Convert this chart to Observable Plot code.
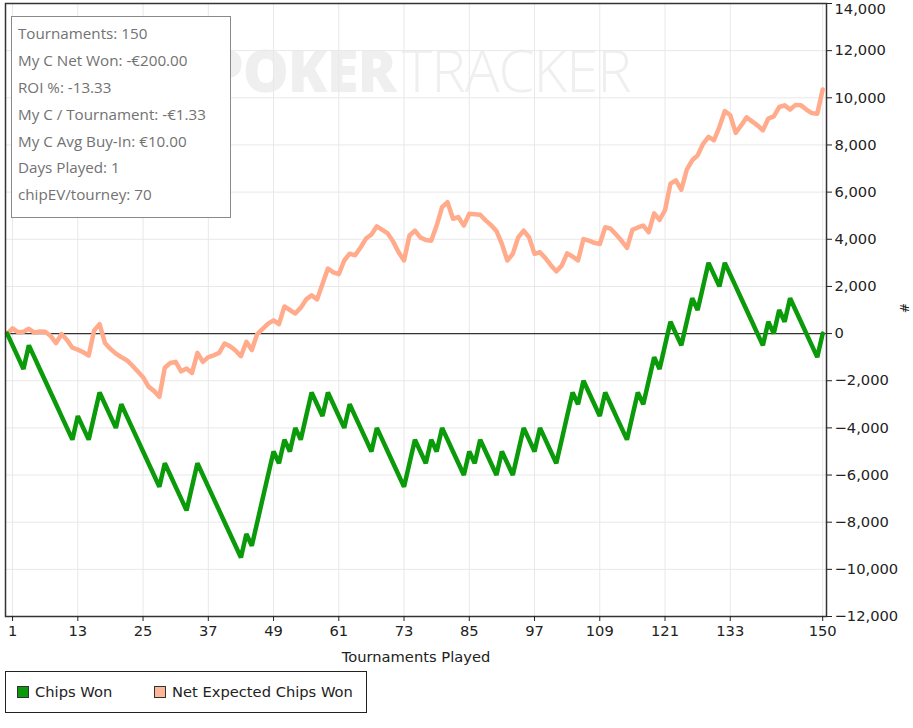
<!DOCTYPE html>
<html>
<head>
<meta charset="utf-8">
<script src="https://cdn.jsdelivr.net/npm/d3@7"></script>
<script src="https://cdn.jsdelivr.net/npm/@observablehq/plot@0.6"></script>
<style>
  body { margin: 0; background: #fff; }
  #wrap { position: relative; width: 913px; height: 728px; overflow: hidden; font-family: "DejaVu Sans", sans-serif; }
  #chart { position: absolute; left: 0; top: 0; }
  #watermark { position: absolute; left: 207px; top: 30px; font-family: "Open Sans", "DejaVu Sans", sans-serif; font-size: 58px; color: #efefef; white-space: nowrap; letter-spacing: -1px; pointer-events: none; }
  #watermark b { font-weight: 800; }
  #watermark span { font-weight: 300; margin-left: 6px; }
  #stats { position: absolute; left: 11px; top: 16px; width: 220px; height: 202px; border: 1px solid #8a8a8a; background: #fff; box-sizing: border-box; padding: 5px 0 0 6px; font-family: "Open Sans", "Noto Sans", sans-serif; font-size: 15.2px; color: #727272; }
  #stats div { height: 26.9px; line-height: 22px; white-space: nowrap; }
  #ylab { position: absolute; left: 899px; top: 301px; font-size: 12px; color: #222; transform: rotate(90deg); }
  #legend { position: absolute; left: 5px; top: 671px; width: 362px; height: 42px; border: 1px solid #222; box-sizing: border-box; font-size: 14.7px; color: #222; }
  .item { position: absolute; top: 11px; display: flex; align-items: center; white-space: nowrap; }
  .sw { width: 10px; height: 10px; border: 1px solid #333; margin-right: 6px; }
</style>
</head>
<body>
<div id="wrap">
  <div id="chart"></div>
  <div id="stats"></div>
  <div id="ylab">#</div>
  <div id="legend"></div>
</div>
<script>
// Tournament tick labels and chip tick values
const tournamentTicks = [1, 13, 25, 37, 49, 61, 73, 85, 97, 109, 121, 133, 150];
const chipTicks = [-12000, -10000, -8000, -6000, -4000, -2000, 0, 2000, 4000, 6000, 8000, 10000, 12000, 14000];

// Cumulative chips won (tournament 0..150)
const chipsWon = [
  0, -500, -1000, -1500, -500, -1000, -1500, -2000, -2500, -3000,
  -3500, -4000, -4500, -3500, -4000, -4500, -3500, -2500, -3000, -3500,
  -4000, -3000, -3500, -4000, -4500, -5000, -5500, -6000, -6500, -5500,
  -6000, -6500, -7000, -7500, -6500, -5500, -6000, -6500, -7000, -7500,
  -8000, -8500, -9000, -9500, -8500, -9000, -8000, -7000, -6000, -5000,
  -5500, -4500, -5000, -4000, -4500, -3500, -2500, -3000, -3500, -2500,
  -3000, -3500, -4000, -3000, -3500, -4000, -4500, -5000, -4000, -4500,
  -5000, -5500, -6000, -6500, -5500, -4500, -5000, -5500, -4500, -5000,
  -4000, -4500, -5000, -5500, -6000, -5000, -5500, -4500, -5000, -5500,
  -6000, -5000, -5500, -6000, -5000, -4000, -4500, -5000, -4000, -4500,
  -5000, -5500, -4500, -3500, -2500, -3000, -2000, -2500, -3000, -3500,
  -2500, -3000, -3500, -4000, -4500, -3500, -2500, -3000, -2000, -1000,
  -1500, -500, 500, 0, -500, 500, 1500, 1000, 2000, 3000,
  2500, 2000, 3000, 2500, 2000, 1500, 1000, 500, 0, -500,
  500, 0, 1000, 500, 1500, 1000, 500, 0, -500, -1000,
  0
];

// Cumulative net expected chips won (tournament 0..150)
const netExpected = [
  0, 220, 60, 80, 200, 40, 90, 80, -100, -400,
  -20, -270, -600, -680, -790, -930, 130, 400, -400, -650,
  -850, -1000, -1130, -1350, -1600, -1850, -2250, -2430, -2680, -1450,
  -1250, -1200, -1600, -1480, -1670, -820, -1200, -1000, -920, -820,
  -420, -540, -720, -960, -350, -700, -20, 200, 420, 560,
  400, 1150, 1000, 850, 1100, 1450, 1620, 1450, 2100, 2760,
  2600, 2520, 3100, 3390, 3320, 3650, 4030, 4200, 4550, 4400,
  4250, 3900, 3450, 3100, 4160, 4370, 4080, 3970, 3940, 4580,
  5360, 5570, 4870, 4940, 4580, 5080, 5060, 5040, 4800, 4600,
  4350, 3800, 3100, 3380, 4080, 4370, 4080, 3380, 3450, 3200,
  2900, 2640, 2880, 3400, 3270, 3100, 4010, 3940, 3850, 3800,
  4510, 4450, 4200, 3940, 3630, 4400, 4500, 4580, 4300, 5100,
  4820, 5230, 6360, 6500, 6100, 6950, 7350, 7560, 8050, 8340,
  8200, 8760, 9440, 9260, 8510, 8830, 9170, 9000, 8830, 8620,
  9120, 9210, 9610, 9680, 9500, 9700, 9680, 9500, 9350, 9320,
  10350
];

const statLines = [
  "Tournaments: 150",
  "My C Net Won: -€200.00",
  "ROI %: -13.33",
  "My C / Tournament: -€1.33",
  "My C Avg Buy-In: €10.00",
  "Days Played: 1",
  "chipEV/tourney: 70"
];

const seriesNames = ["Chips Won", "Net Expected Chips Won"];
const seriesColors = ["#0a9a0a", "#ffab8c"];
const swatchColors = ["#0a9a0a", "#ffb597"];

const chipsRows = chipsWon.map((v, i) => ({t: i, v}));
const netRows = netExpected.map((v, i) => ({t: i, v}));
const topTick = chipTicks[chipTicks.length - 1];
const lowerTicks = chipTicks.slice(0, -1);

const chart = Plot.plot({
  width: 913,
  height: 668,
  marginLeft: 5,
  marginRight: 87,
  marginTop: 3,
  marginBottom: 52,
  style: {fontFamily: "'DejaVu Sans', sans-serif", fontSize: "14.7px", color: "#222", background: "transparent", overflow: "visible"},
  x: {domain: [-0.3, 150.7]},
  y: {domain: [-12000, 14000]},
  marks: [
    Plot.gridX(tournamentTicks, {stroke: "#e8e8e8", strokeOpacity: 1}),
    Plot.gridY(chipTicks, {stroke: "#e8e8e8", strokeOpacity: 1}),
    Plot.ruleY([0], {stroke: "#333", strokeWidth: 1.2}),
    Plot.line(netRows, {x: "t", y: "v", stroke: seriesColors[1], strokeWidth: 4.5, strokeLinejoin: "round"}),
    Plot.line(chipsRows, {x: "t", y: "v", stroke: seriesColors[0], strokeWidth: 4.5, strokeLinejoin: "miter"}),
    Plot.frame({stroke: "#333", strokeWidth: 1.5}),
    Plot.axisX(tournamentTicks, {tickSize: 5, tickPadding: 4, label: null, stroke: "#222"}),
    Plot.axisY(lowerTicks, {anchor: "right", tickSize: 5, tickPadding: 3, tickFormat: d3.format(","), label: null, stroke: "#222"}),
    Plot.axisY([topTick], {anchor: "right", tickSize: 5, tickPadding: 3, tickFormat: d3.format(","), label: null, stroke: "#222", textAnchor: "start", lineAnchor: "top", dy: 0}),
    Plot.text(["Tournaments Played"], {frameAnchor: "bottom", dy: 45, fontSize: 14.7, fill: "#222"})
  ]
});
document.getElementById("chart").appendChild(chart);

// watermark behind chart lines
const wm = document.createElement("div");
wm.id = "watermark";
wm.innerHTML = "<b>POKER</b><span>TRACKER</span>";
document.getElementById("wrap").insertBefore(wm, document.getElementById("chart"));

const stats = document.getElementById("stats");
statLines.forEach(s => { const d = document.createElement("div"); d.textContent = s; stats.appendChild(d); });

const legend = document.getElementById("legend");
const lefts = [11, 148];
seriesNames.forEach((n, i) => {
  const it = document.createElement("div");
  it.className = "item";
  it.style.left = lefts[i] + "px";
  it.innerHTML = `<div class="sw" style="background:${swatchColors[i]}"></div><span>${n}</span>`;
  legend.appendChild(it);
});
</script>
</body>
</html>
